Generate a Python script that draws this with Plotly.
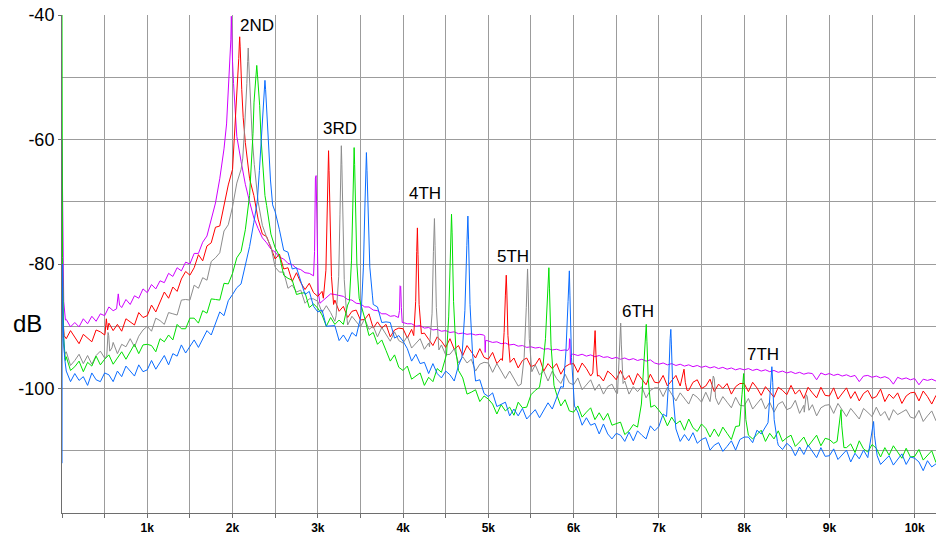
import plotly.graph_objects as go

# ---------------- data (frequency in Hz, level in dB) ----------------
freq_grid = list(range(0, 10251, 50))  # sampling grid of the floor lists

magenta_floor = [
    -60.0, -88.9, -90.1, -89.4, -90.1, -88.8, -89.6, -88.4, -89.2, -88.0, -88.3, -86.9, -87.5, -86.8, -87.0, -85.7, -86.5, -85.1, -85.5, -84.0,
    -84.6, -83.3, -84.0, -82.7, -83.0, -81.5, -82.0, -80.6, -81.1, -79.7, -80.0, -78.3, -78.3, -76.5, -75.5, -72.8, -70.2, -66.3, -61.5, -56.0,
    -48.0, -59.5, -63.5, -67.2, -70.0, -72.6, -74.3, -75.8, -76.6, -77.6, -78.1, -78.9, -79.2, -79.9, -80.1, -80.7, -80.9, -81.4, -81.5, -81.9,
    -84.0, -86.0, -85.3, -84.8, -84.9, -85.1, -85.2, -85.7, -85.8, -86.3, -86.4, -86.9, -86.9, -87.4, -87.5, -88.0, -88.0, -88.4, -88.3, -88.6,
    -89.4, -89.6, -89.6, -90.0, -89.9, -90.3, -90.2, -90.6, -90.5, -90.8, -90.7, -91.0, -90.9, -91.2, -91.1, -91.3, -91.2, -91.4, -91.3, -91.5,
    -92.4, -92.6, -92.5, -92.8, -92.7, -93.0, -92.9, -93.2, -93.1, -93.4, -93.3, -93.5, -93.4, -93.7, -93.6, -93.8, -93.7, -93.9, -93.8, -93.9,
    -94.5, -94.7, -94.5, -94.8, -94.6, -94.9, -94.7, -95.0, -94.9, -95.2, -95.0, -95.3, -95.1, -95.4, -95.2, -95.5, -95.3, -95.6, -95.4, -95.9,
    -96.1, -95.9, -96.2, -96.0, -96.3, -96.1, -96.4, -96.2, -96.5, -96.3, -96.6, -96.4, -96.7, -96.5, -96.8, -96.6, -96.9, -96.7, -97.0, -96.8,
    -97.0, -96.8, -97.1, -96.9, -97.2, -97.0, -97.3, -97.1, -97.4, -97.2, -97.5, -97.3, -97.6, -97.4, -97.7, -97.5, -97.6, -98.6, -97.5, -97.8,
    -97.6, -97.9, -97.7, -98.0, -97.8, -98.1, -97.9, -98.9, -98.0, -97.9, -98.2, -98.0, -98.3, -98.1, -98.4, -99.3, -98.2, -98.5, -98.3, -98.6,
    -98.4, -99.4, -98.5, -98.7, -98.5, -98.8,
]
magenta_peaks = [
    [(0, -60), (8, -78), (20, -86), (40, -89)],
    [(640, -87.2), (660, -84.8), (675, -86.6)],
    [(1930, -57.5), (1945, -54), (1960, -50.5), (1972, -47), (1980, -44), (1986, -40.2), (1992, -44), (2000, -47.5), (2012, -51), (2028, -55), (2045, -58.5)],
    [(2950, -81.9), (2962, -78), (2968, -68), (2972, -66.2), (2980, -65.8), (2986, -70), (2993, -78), (3005, -84.5), (3025, -86.3)],
    [(3945, -88.6), (3958, -87.5), (3965, -83.5), (3972, -83.6), (3980, -87), (3990, -89.4)],
    [(4945, -91.4), (4958, -91.6), (4963, -94.2), (4968, -92.3), (4985, -92.3)],
    [(5930, -93.9), (5948, -93.5), (5952, -92.0), (5958, -92.2), (5962, -96.0), (5968, -94.6), (5985, -94.5)],
]

red_floor = [
    -83.0, -92.0, -90.7, -91.8, -92.8, -91.3, -91.9, -92.5, -90.6, -90.9, -91.4, -89.5, -90.7, -89.7, -90.8, -88.8, -89.3, -89.8, -87.8, -88.6,
    -88.3, -86.6, -87.7, -86.1, -84.5, -85.5, -83.7, -84.4, -82.4, -81.2, -81.8, -80.6, -78.5, -79.5, -77.1, -76.6, -74.1, -73.9, -70.3, -67.3,
    -64.8, -55.0, -50.0, -60.5, -66.3, -69.0, -72.8, -75.2, -75.6, -77.3, -79.2, -78.4, -80.8, -80.6, -82.8, -81.4, -83.0, -84.1, -83.1, -84.6,
    -85.2, -84.4, -80.0, -80.0, -85.8, -87.6, -86.8, -88.6, -87.6, -87.4, -89.0, -88.9, -88.0, -90.3, -89.3, -90.3, -89.7, -91.7, -90.6, -90.3,
    -90.4, -91.9, -90.5, -85.0, -85.0, -91.1, -92.1, -93.1, -91.7, -92.4, -93.4, -92.0, -93.7, -93.1, -94.7, -93.1, -94.1, -95.1, -93.6, -95.0,
    -95.3, -94.2, -96.0, -95.2, -85.0, -85.0, -95.1, -96.7, -95.5, -95.1, -96.5, -96.2, -95.1, -97.2, -96.0, -96.8, -96.0, -97.7, -96.5, -96.1,
    -96.0, -97.4, -95.9, -96.8, -98.0, -95.0, -97.9, -98.8, -97.2, -97.8, -98.6, -97.1, -98.6, -97.9, -99.4, -97.6, -98.5, -99.4, -97.7, -99.0,
    -99.1, -97.9, -99.6, -98.8, -97.9, -99.6, -98.0, -100.3, -99.0, -98.6, -100.0, -99.6, -98.5, -100.5, -99.3, -100.0, -99.2, -100.9, -99.7, -99.2,
    -99.2, -100.5, -99.0, -99.9, -101.1, -99.7, -100.6, -101.4, -99.8, -100.3, -101.0, -99.5, -100.9, -100.2, -101.6, -99.8, -100.7, -101.5, -99.8, -101.1,
    -101.2, -99.9, -101.7, -100.8, -99.9, -101.6, -100.5, -102.0, -100.8, -100.3, -101.6, -101.3, -100.1, -102.1, -100.9, -101.6, -100.7, -102.4, -101.2, -100.7,
    -100.6, -102.0, -100.4, -101.3, -102.5, -101.1,
]
red_peaks = [
    [(0, -83), (8, -88.5), (25, -91.5)],
    [(505, -91.2), (520, -88.8), (535, -90.6)],
    [(2030, -58), (2050, -54), (2063, -50), (2073, -47), (2080, -44.5), (2084, -43.5), (2089, -45), (2097, -48.5), (2108, -52), (2125, -56.5)],
    [(3065, -85.5), (3095, -81), (3110, -73), (3120, -64), (3126, -61.8), (3132, -65), (3142, -73.5), (3160, -82), (3185, -86.5)],
    [(4125, -91.5), (4148, -86), (4160, -78), (4168, -74.2), (4175, -78.5), (4188, -86.5), (4215, -91.2)],
    [(5165, -95.5), (5185, -91), (5200, -85), (5210, -81.8), (5217, -84.5), (5230, -91.5), (5255, -95.8)],
    [(6225, -97.5), (6240, -93.5), (6252, -90.7), (6262, -94.5), (6280, -98)],
    [(7260, -99), (7280, -97.3), (7295, -96.9), (7310, -99), (7330, -100.3)],
]

gray_floor = [
    -88.0, -94.1, -96.3, -95.5, -94.5, -96.0, -94.7, -96.1, -94.7, -94.0, -95.1, -92.0, -92.6, -94.4, -92.9, -93.3, -92.0, -93.3, -91.6, -90.6,
    -90.0, -90.8, -88.7, -89.1, -89.7, -87.8, -88.0, -88.2, -85.8, -85.7, -85.8, -83.4, -83.9, -82.2, -82.6, -79.6, -79.0, -78.2, -74.7, -73.7,
    -70.8, -67.0, -64.8, -60.0, -50.0, -62.0, -70.0, -73.8, -75.7, -77.2, -80.5, -81.3, -81.3, -83.9, -83.4, -84.5, -84.2, -86.3, -85.6, -85.6,
    -86.0, -87.8, -86.7, -87.8, -89.2, -80.0, -80.0, -89.8, -88.4, -89.2, -90.1, -88.8, -90.5, -90.0, -91.7, -90.2, -91.3, -92.4, -90.9, -92.3,
    -92.7, -91.6, -93.5, -92.8, -92.0, -93.7, -92.7, -85.0, -85.0, -93.0, -94.6, -94.5, -93.6, -95.9, -94.9, -95.9, -95.3, -97.2, -96.1, -95.8,
    -95.9, -97.4, -96.0, -97.1, -98.4, -97.2, -98.5, -99.6, -90.0, -90.0, -90.0, -96.2, -97.8, -97.2, -98.8, -97.2, -98.4, -99.2, -97.7, -99.1,
    -99.4, -98.3, -100.2, -99.4, -98.6, -100.3, -99.3, -100.9, -99.7, -99.3, -100.7, -95.0, -98.8, -100.9, -99.7, -100.5, -99.7, -101.5, -100.3, -99.9,
    -99.9, -101.3, -99.8, -100.8, -102.0, -100.7, -101.6, -102.5, -100.9, -101.4, -102.2, -100.6, -102.1, -99.0, -99.0, -101.3, -102.2, -103.1, -101.4, -102.7,
    -102.8, -101.6, -103.3, -102.5, -101.6, -103.3, -102.2, -103.8, -102.5, -102.1, -103.4, -103.1, -101.9, -104.0, -102.7, -101.0, -102.6, -104.4, -103.1, -102.7,
    -102.6, -104.0, -102.4, -103.4, -104.5, -103.2, -104.0, -104.9, -103.2, -103.8, -104.5, -103.0, -104.4, -103.7, -105.1, -103.4, -104.2, -103.8, -103.4, -104.6,
    -104.8, -103.5, -105.3, -104.4, -103.6, -105.2,
]
gray_peaks = [
    [(0, -88), (10, -92), (30, -94.5)],
    [(525, -94.8), (540, -91), (548, -91.5), (560, -94), (585, -93.5)],
    [(2120, -63), (2140, -58.5), (2155, -55), (2168, -51), (2177, -47.5), (2184, -45.3), (2190, -47.5), (2200, -51), (2213, -55), (2230, -59.5), (2255, -64)],
    [(3215, -88.3), (3245, -82), (3260, -72), (3270, -64), (3276, -61), (3282, -64), (3292, -72.5), (3310, -82.5), (3340, -88.5)],
    [(4310, -93.3), (4340, -88), (4356, -78), (4368, -72.7), (4375, -77), (4390, -87), (4420, -93.8)],
    [(5385, -99.3), (5420, -95), (5445, -87), (5460, -80.8), (5467, -84), (5480, -92), (5510, -97.3)],
    [(6515, -100.8), (6538, -95), (6552, -89.5), (6560, -93), (6580, -99.2)],
    [(7615, -100.6), (7638, -98), (7650, -98.4), (7665, -101.5), (7700, -102.6)],
    [(8705, -103.8), (8728, -101), (8740, -101.3), (8760, -103.5)],
]

green_floor = [
    -40.0, -94.9, -97.1, -96.5, -95.6, -97.3, -95.8, -96.4, -94.8, -96.2, -95.3, -94.6, -96.1, -95.1, -94.1, -95.3, -94.0, -92.9, -94.4, -93.0,
    -92.9, -93.1, -94.1, -92.0, -92.5, -91.4, -92.2, -89.7, -90.4, -90.4, -88.7, -88.7, -89.5, -87.5, -87.9, -85.6, -85.7, -85.8, -83.1, -83.2,
    -81.5, -79.0, -78.0, -74.5, -69.0, -55.0, -50.0, -60.0, -70.6, -75.2, -77.4, -78.7, -81.8, -82.3, -82.6, -84.9, -84.7, -84.6, -87.0, -86.4,
    -87.1, -88.2, -90.0, -88.6, -89.7, -89.0, -89.7, -86.6, -75.0, -75.0, -86.2, -88.7, -91.5, -91.0, -92.9, -92.2, -93.9, -95.6, -94.6, -96.6,
    -97.1, -96.4, -98.5, -98.0, -97.5, -99.5, -98.2, -98.9, -96.8, -97.4, -95.3, -80.0, -80.0, -97.1, -98.3, -100.9, -100.6, -100.2, -102.1, -101.2,
    -101.7, -102.5, -104.1, -102.6, -103.6, -103.0, -104.3, -102.2, -103.1, -103.0, -101.0, -100.3, -99.8, -90.0, -90.0, -90.0, -100.9, -102.8, -101.8, -103.6,
    -103.8, -102.8, -104.6, -103.8, -103.1, -105.0, -103.9, -105.1, -104.0, -105.9, -105.6, -105.4, -107.4, -106.8, -105.8, -106.2, -95.0, -95.0, -95.0, -102.7,
    -103.5, -104.4, -106.0, -104.6, -105.7, -105.2, -106.7, -104.9, -106.3, -106.9, -105.7, -106.4, -107.8, -106.5, -107.7, -106.2, -107.2, -108.2, -106.1, -100.0,
    -100.0, -100.0, -108.1, -107.4, -106.7, -108.5, -107.2, -108.1, -106.8, -108.5, -107.9, -107.5, -109.3, -108.6, -107.8, -109.3, -108.3, -107.5, -109.2, -108.0,
    -108.2, -108.8, -105.0, -105.0, -109.5, -108.9, -110.3, -108.4, -109.7, -110.2, -109.0, -109.6, -111.0, -109.5, -110.7, -109.2, -110.2, -111.2, -109.6, -111.0,
    -110.9, -109.8, -111.5, -110.8, -110.0, -111.9,
]
green_peaks = [
    [(0, -40), (6, -79), (20, -92), (40, -95.5)],
    [(2200, -69), (2220, -64.5), (2240, -59), (2252, -54), (2265, -51), (2276, -49), (2284, -48.1), (2292, -49.5), (2304, -52), (2318, -54.5), (2335, -60), (2355, -64.5), (2380, -69)],
    [(3370, -86), (3395, -79.5), (3410, -71), (3420, -64), (3426, -61.3), (3432, -64), (3442, -72), (3458, -80), (3485, -85.5)],
    [(4510, -94.5), (4535, -88.5), (4555, -79), (4568, -72), (4575, -75), (4592, -86), (4620, -94)],
    [(5640, -96.5), (5670, -92), (5695, -84), (5710, -80.6), (5717, -84), (5735, -93), (5770, -99.5)],
    [(6795, -102.5), (6822, -97), (6842, -92), (6852, -89.7), (6860, -92.5), (6875, -98.5), (6905, -103)],
    [(7945, -106), (7975, -101), (7994, -97.6), (8002, -100), (8020, -105), (8050, -107.5)],
    [(9090, -108.5), (9118, -105), (9136, -103.4), (9145, -106), (9170, -109.5)],
]

blue_floor = [
    -112.0, -97.2, -98.9, -97.6, -98.7, -98.1, -99.5, -97.5, -98.6, -98.9, -97.5, -97.8, -98.9, -97.2, -98.1, -96.4, -97.2, -98.0, -96.2, -97.3,
    -97.0, -95.5, -96.9, -95.8, -94.7, -96.2, -94.4, -94.8, -93.0, -94.3, -93.2, -92.2, -93.4, -92.1, -90.7, -91.4, -89.5, -87.7, -88.3, -85.9,
    -84.9, -83.8, -83.2, -79.9, -77.2, -73.3, -60.0, -55.0, -52.0, -60.0, -71.6, -74.5, -77.8, -78.1, -80.8, -80.6, -82.8, -84.9, -84.4, -86.8,
    -87.7, -87.4, -90.0, -90.0, -89.9, -92.3, -91.4, -92.5, -91.0, -91.6, -88.7, -70.0, -70.0, -86.5, -86.9, -89.4, -89.3, -89.4, -91.9, -91.5,
    -92.4, -93.6, -95.6, -94.5, -96.0, -95.8, -97.6, -96.0, -97.6, -98.3, -97.2, -97.8, -98.8, -96.3, -80.0, -80.0, -80.0, -98.8, -98.6, -100.8,
    -101.3, -100.7, -102.9, -102.6, -102.2, -104.4, -103.3, -104.4, -103.2, -104.9, -104.1, -103.4, -104.7, -103.5, -102.3, -103.3, -101.6, -99.7, -90.0, -90.0,
    -90.0, -103.8, -105.9, -104.7, -105.9, -105.6, -107.3, -105.7, -107.3, -108.1, -107.2, -107.5, -108.5, -107.0, -108.4, -106.8, -107.5, -108.1, -106.0, -106.8,
    -106.1, -104.1, -95.0, -95.0, -95.0, -108.5, -107.4, -108.4, -107.1, -108.8, -108.2, -107.9, -109.9, -109.1, -108.7, -110.1, -109.3, -108.4, -109.9, -108.2,
    -107.8, -107.8, -108.7, -106.7, -107.3, -106.1, -100.0, -100.0, -109.1, -109.8, -108.8, -109.4, -110.8, -109.4, -110.6, -109.1, -110.1, -111.1, -109.5, -110.9,
    -110.8, -109.7, -111.4, -110.7, -109.9, -111.8, -110.4, -111.3, -109.9, -111.1, -108.0, -108.0, -112.2, -111.5, -110.8, -112.3, -111.3, -110.5, -112.2, -111.0,
    -111.2, -111.8, -113.2, -111.6, -112.6, -112.1,
]
blue_peaks = [
    [(0, -112), (2, -80), (12, -89), (30, -95), (50, -97.2)],
    [(2290, -70), (2315, -65), (2335, -61), (2350, -57), (2362, -54), (2372, -52), (2380, -50.5), (2388, -52), (2398, -54.5), (2410, -58), (2425, -62.5), (2445, -66.5), (2470, -70.5)],
    [(3510, -87.5), (3535, -80.5), (3552, -71), (3563, -64.5), (3570, -62.1), (3577, -65), (3590, -73), (3610, -80.5), (3640, -85)],
    [(4690, -95), (4725, -87.5), (4748, -77), (4760, -72.3), (4768, -76), (4785, -86.5), (4815, -94.5)],
    [(5880, -99.8), (5910, -94), (5935, -86), (5950, -81.1), (5957, -85), (5975, -95), (6010, -102.8)],
    [(7090, -104.5), (7115, -98.5), (7132, -92), (7140, -90.5), (7147, -93), (7165, -101), (7200, -106.5)],
    [(8280, -105.5), (8308, -100), (8325, -96.5), (8335, -99), (8352, -105), (8390, -108.5)],
    [(9470, -109.5), (9500, -107), (9518, -105.3), (9528, -107.5), (9560, -110.8)],
]

x_tick_values = [1000, 2000, 3000, 4000, 5000, 6000, 7000, 8000, 9000, 10000]
x_tick_labels = ["1k", "2k", "3k", "4k", "5k", "6k", "7k", "8k", "9k", "10k"]
y_tick_values = [-100, -80, -60, -40]
y_tick_labels = ["-100", "-80", "-60", "-40"]

harmonic_labels = ["2ND", "3RD", "4TH", "5TH", "6TH", "7TH"]
harmonic_label_freq = [2060, 3035, 4045, 5075, 6540, 8015]
harmonic_label_db = [-41.7, -58.2, -68.6, -78.8, -87.6, -94.6]

# ---------------- build ----------------
def build(floor, peaks):
    spans = [(c[0][0], c[-1][0]) for c in peaks]
    pts = [(f, v) for f, v in zip(freq_grid, floor)
           if not any(lo <= f <= hi for lo, hi in spans)]
    for c in peaks:
        pts.extend(c)
    pts.sort(key=lambda p: p[0])
    return [p[0] for p in pts], [p[1] for p in pts]

series = [
    ("magenta", magenta_floor, magenta_peaks, "#d000ff"),
    ("red", red_floor, red_peaks, "#ff0000"),
    ("gray", gray_floor, gray_peaks, "#8c8c8c"),
    ("green", green_floor, green_peaks, "#00e000"),
    ("blue", blue_floor, blue_peaks, "#0a6cff"),
]

FONT = "Arial, Liberation Sans, sans-serif"
GRID = "#9c9c9c"
AXIS = "#6e6e6e"

fig = go.Figure()
for name, floor, peaks, color in series:
    xs, ys = build(floor, peaks)
    fig.add_trace(go.Scatter(x=xs, y=ys, mode="lines", name=name,
                             line=dict(color=color, width=1), hoverinfo="skip"))

for txt, fx, fy in zip(harmonic_labels, harmonic_label_freq, harmonic_label_db):
    fig.add_annotation(x=fx, y=fy, xref="x", yref="y", text=txt, showarrow=False,
                       xanchor="left", yanchor="middle",
                       font=dict(family=FONT, size=17, color="#000000"))

fig.add_annotation(x=-0.04, y=0.3815, xref="paper", yref="paper", text="dB",
                   showarrow=False, xanchor="center", yanchor="middle",
                   font=dict(family=FONT, size=24, color="#000000"))

fig.update_layout(
    width=936, height=535,
    margin=dict(l=62, r=0, t=15, b=22),
    paper_bgcolor="white", plot_bgcolor="white",
    showlegend=False,
    font=dict(family=FONT, color="#000000"),
)
fig.update_xaxes(
    range=[0, 10250], tickmode="array", tickvals=x_tick_values, ticktext=x_tick_labels,
    tickfont=dict(family=FONT, size=12, color="#000000", weight="bold"),
    ticks="outside", ticklen=4, tickcolor=AXIS, tickwidth=1,
    showgrid=True, gridcolor=GRID, gridwidth=1,
    minor=dict(dtick=500, tick0=0, showgrid=True, gridcolor=GRID, gridwidth=1,
               ticks="outside", ticklen=4, tickcolor=AXIS),
    showline=True, linecolor=AXIS, linewidth=1, zeroline=False, automargin=False,
)
fig.update_yaxes(
    range=[-120, -40], tickmode="array", tickvals=y_tick_values, ticktext=y_tick_labels,
    tickfont=dict(family=FONT, size=18, color="#000000"),
    ticks="outside", ticklen=3, tickcolor=AXIS, tickwidth=1,
    showgrid=True, gridcolor=GRID, gridwidth=1,
    minor=dict(dtick=10, tick0=0, showgrid=True, gridcolor=GRID, gridwidth=1),
    showline=True, linecolor=AXIS, linewidth=1, zeroline=False, automargin=False,
)

fig.write_html("out.html", config={"displayModeBar": False})
